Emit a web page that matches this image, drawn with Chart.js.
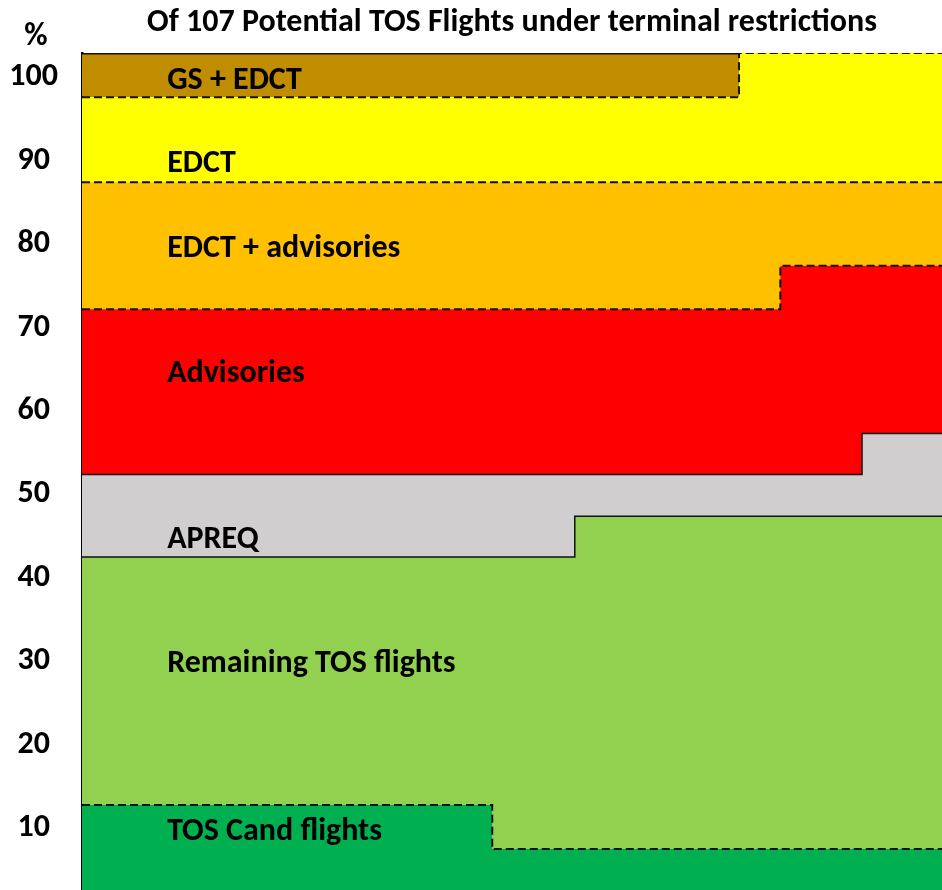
<!DOCTYPE html>
<html lang="en">

<head>
    <meta charset="UTF-8">
    <title>Of 107 Potential TOS Flights under terminal restrictions</title>
    <script src="https://cdn.jsdelivr.net/npm/chart.js"></script>
    <style>
        * {
            margin: 0;
            padding: 0;
            box-sizing: border-box;
        }

        body {
            background-color: #fff;
        }

        .container {
            width: 942px;
            height: 890px;
        }
    </style>
</head>

<body>
    <div class="container">
        <canvas id="tos-chart"></canvas>
    </div>

    <script>
        // step positions along the (unlabelled) horizontal axis, 0..100
        var steps = [0, 47.7, 57.3, 76.4, 81.2, 90.7, 100];

        // band thickness (%) for each step segment, bottom to top
        var tosCand = [12.8, 7.5, 7.5, 7.5, 7.5, 7.5];
        var remainingTos = [29.7, 35.0, 39.9, 39.9, 39.9, 39.9];
        var apreq = [9.9, 9.9, 5.0, 5.0, 5.0, 9.9];
        var advisories = [19.8, 19.8, 19.8, 19.8, 25.0, 20.1];
        var edctAdvisories = [15.2, 15.2, 15.2, 15.2, 10.0, 10.0];
        var edct = [10.2, 10.2, 10.2, 15.5, 15.5, 15.5];
        var gsEdct = [5.3, 5.3, 5.3, 0, 0, 0];

        var yTicks = [10, 20, 30, 40, 50, 60, 70, 80, 90, 100];

        var FONT = 'Carlito, Lato, "Open Sans", sans-serif';

        function toPoints(values) {
            var pts = [];
            for (var i = 0; i < steps.length; i++) {
                var v = i < values.length ? values[i] : values[values.length - 1];
                pts.push({ x: steps[i], y: v });
            }
            return pts;
        }

        function band(label, values, color, dashed, lineWidth, fill) {
            return {
                label: label,
                data: toPoints(values),
                backgroundColor: color,
                borderColor: '#111',
                borderWidth: lineWidth,
                borderDash: dashed ? [8, 4] : [],
                fill: fill,
                stepped: true,
                pointRadius: 0,
                tension: 0
            };
        }

        // text placed inside the bands: [text, x, y] in data units
        var bandLabels = [
            ['GS + EDCT', 9.9, 99.6],
            ['EDCT', 9.9, 89.6],
            ['EDCT + advisories', 9.9, 79.4],
            ['Advisories', 9.9, 64.4],
            ['APREQ', 9.9, 44.6],
            ['Remaining TOS flights', 9.9, 29.7],
            ['TOS Cand flights', 9.9, 9.6]
        ];

        var overlay = {
            id: 'overlay',
            afterDraw: function (chart) {
                var ctx = chart.ctx;
                var xs = chart.scales.x, ys = chart.scales.y;
                var area = chart.chartArea;
                ctx.save();
                ctx.fillStyle = '#000';
                ctx.textBaseline = 'middle';

                ctx.font = 'bold 32px ' + FONT;
                ctx.textAlign = 'left';
                bandLabels.forEach(function (l) {
                    ctx.fillText(l[0], xs.getPixelForValue(l[1]), ys.getPixelForValue(l[2]));
                });

                ctx.textAlign = 'center';
                ctx.fillText('Of 107 Potential TOS Flights under terminal restrictions', (area.left + area.right) / 2, 23);
                ctx.fillText('%', 36, 37);
                ctx.restore();
            }
        };

        var ctx = document.getElementById('tos-chart').getContext('2d');
        var myChart = new Chart(ctx, {
            type: 'line',
            data: {
                datasets: [
                    band('TOS Cand flights', tosCand, '#00B050', true, 2, 'origin'),
                    band('Remaining TOS flights', remainingTos, '#92D050', false, 1.5, '-1'),
                    band('APREQ', apreq, '#D0CECE', false, 1.5, '-1'),
                    band('Advisories', advisories, '#FF0000', true, 2, '-1'),
                    band('EDCT + advisories', edctAdvisories, '#FFC000', true, 2, '-1'),
                    band('EDCT', edct, '#FFFF00', true, 2, '-1'),
                    band('GS + EDCT', gsEdct, '#C08C00', false, 3, '-1')
                ]
            },
            options: {
                responsive: true,
                maintainAspectRatio: false,
                animation: false,
                layout: {
                    padding: { top: 53, right: 0, bottom: 0, left: 0 }
                },
                plugins: {
                    legend: { display: false },
                    tooltip: { enabled: false }
                },
                scales: {
                    x: {
                        type: 'linear',
                        min: 0,
                        max: 100,
                        display: false
                    },
                    y: {
                        stacked: true,
                        min: 2.6,
                        max: 102.9,
                        afterBuildTicks: function (scale) {
                            scale.ticks = yTicks.map(function (v) { return { value: v }; });
                        },
                        afterFit: function (scale) {
                            scale.width = 82;
                            scale.paddingTop = 0;
                            scale.paddingBottom = 0;
                        },
                        grid: { display: false, drawTicks: false },
                        border: { display: true, color: '#000', width: 2.5 },
                        ticks: {
                            color: '#000',
                            crossAlign: 'center',
                            padding: 24,
                            font: { family: FONT, size: 32, weight: 'bold' }
                        }
                    }
                }
            },
            plugins: [overlay]
        });
    </script>
</body>

</html>
